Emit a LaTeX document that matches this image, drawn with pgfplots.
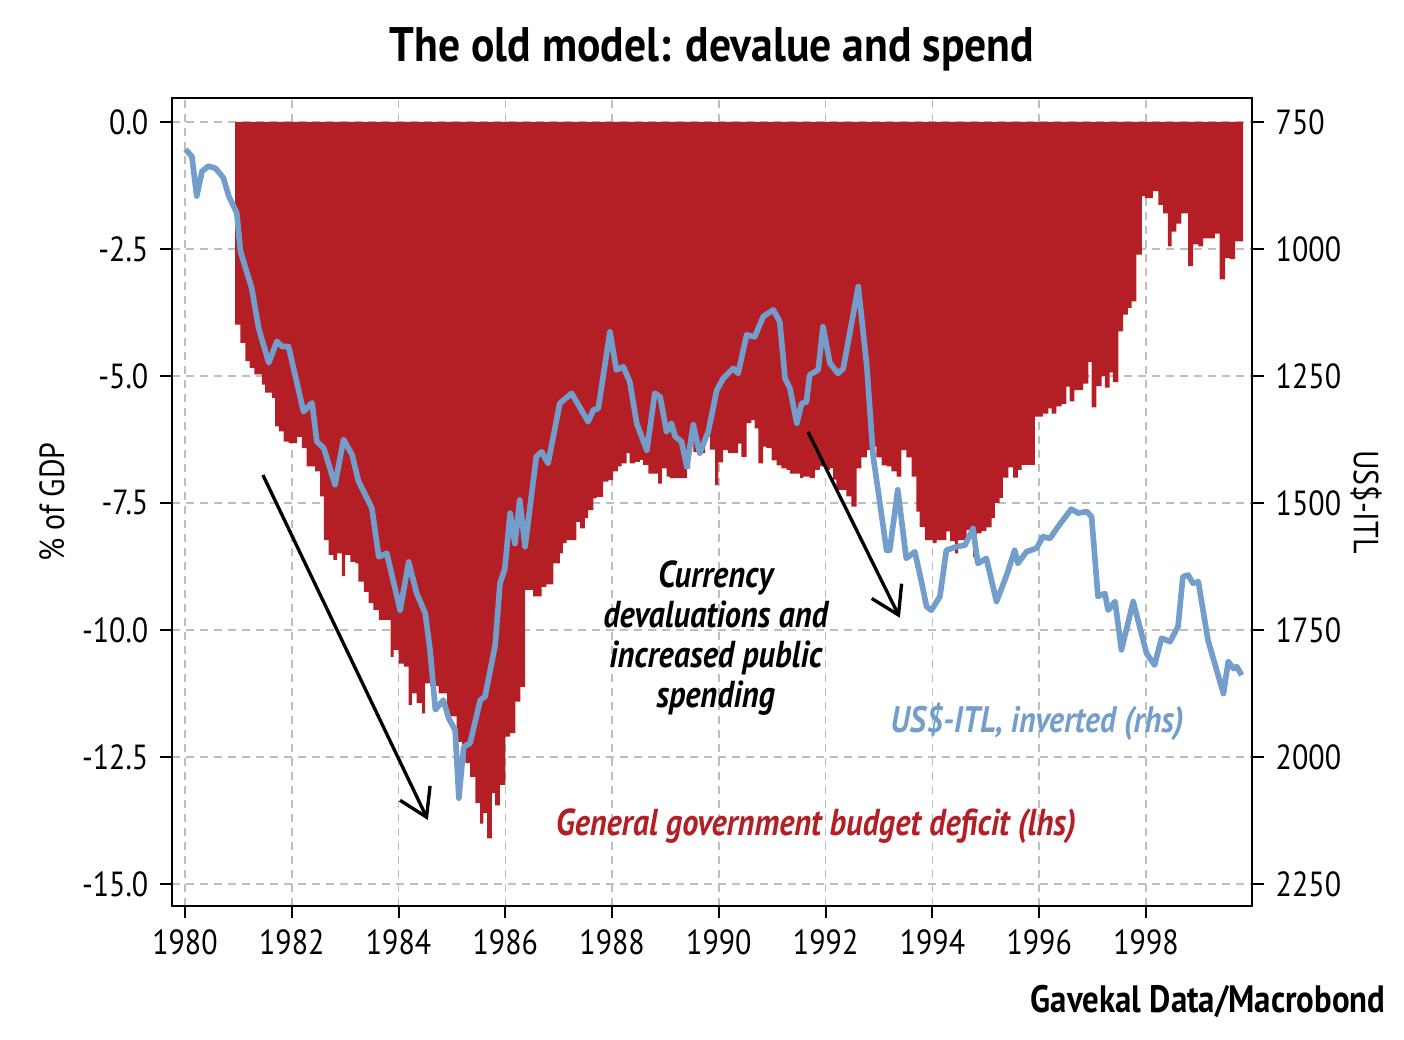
\documentclass[border=0pt]{standalone}
\usepackage{fontspec}
\setmainfont{PT Sans}
\newfontfamily\condfont{PT Sans}[FakeStretch=0.86]
\newfontfamily\titlefont{PT Sans}[FakeStretch=0.9]
\usepackage{pgfplots}
\pgfplotsset{compat=1.18}
\usetikzlibrary{arrows.meta}
\definecolor{defred}{RGB}{180,30,37}
\definecolor{itlblue}{RGB}{115,158,204}
\definecolor{gridgray}{RGB}{190,190,190}

\pgfplotstableread{
x y
1980.94 -3.99
1981.04 -4.35
1981.13 -4.71
1981.21 -4.84
1981.30 -4.97
1981.44 -5.17
1981.50 -5.33
1981.63 -5.43
1981.69 -5.99
1981.76 -6.09
1981.85 -6.29
1981.94 -6.32
1982.10 -6.20
1982.19 -6.42
1982.28 -6.78
1982.44 -6.88
1982.53 -7.37
1982.60 -8.23
1982.69 -8.52
1982.78 -8.62
1982.85 -8.49
1982.94 -8.94
1983.00 -8.52
1983.10 -8.66
1983.19 -8.69
1983.25 -9.05
1983.35 -9.25
1983.44 -9.47
1983.53 -9.61
1983.63 -9.80
1983.85 -10.53
1983.91 -10.39
1984.00 -10.66
1984.10 -10.72
1984.19 -11.48
1984.25 -11.25
1984.34 -11.44
1984.44 -11.64
1984.50 -11.05
1984.59 -11.10
1984.75 -11.25
1984.91 -11.70
1985.09 -12.20
1985.19 -12.50
1985.25 -12.62
1985.34 -12.89
1985.44 -13.41
1985.53 -13.81
1985.59 -13.60
1985.66 -14.10
1985.75 -13.21
1985.81 -13.45
1985.90 -13.05
1986.00 -12.10
1986.09 -12.03
1986.19 -11.41
1986.28 -11.12
1986.37 -9.21
1986.52 -9.34
1986.68 -9.15
1986.77 -9.10
1986.90 -8.69
1987.02 -8.49
1987.08 -8.29
1987.15 -8.23
1987.33 -7.87
1987.40 -8.00
1987.49 -7.80
1987.55 -7.64
1987.65 -7.41
1987.71 -7.38
1987.83 -7.08
1987.93 -7.05
1988.02 -6.88
1988.11 -6.78
1988.18 -6.72
1988.27 -6.52
1988.33 -6.72
1988.43 -6.69
1988.52 -6.65
1988.58 -6.75
1988.68 -6.92
1988.77 -6.92
1988.86 -7.12
1988.93 -6.82
1989.02 -6.98
1989.08 -7.01
1989.18 -7.01
1989.40 -6.82
1989.46 -6.30
1989.52 -6.50
1989.64 -6.52
1989.74 -6.19
1989.83 -6.45
1989.93 -7.15
1989.99 -6.70
1990.08 -6.46
1990.17 -6.52
1990.36 -6.33
1990.42 -6.59
1990.52 -5.93
1990.61 -5.87
1990.67 -6.03
1990.74 -6.72
1990.83 -6.39
1990.89 -6.42
1990.99 -6.66
1991.08 -6.76
1991.17 -6.82
1991.27 -6.85
1991.33 -6.92
1991.52 -7.01
1991.58 -6.98
1991.70 -7.01
1991.80 -6.85
1991.89 -6.78
1991.99 -6.85
1992.08 -6.82
1992.14 -7.04
1992.20 -7.24
1992.39 -7.37
1992.48 -7.57
1992.58 -6.82
1992.67 -6.60
1992.77 -6.46
1992.86 -6.39
1992.95 -6.60
1993.05 -6.76
1993.14 -6.78
1993.23 -6.88
1993.33 -6.98
1993.42 -6.46
1993.51 -6.60
1993.61 -6.98
1993.70 -7.67
1993.76 -7.97
1993.86 -8.23
1994.01 -8.29
1994.08 -8.23
1994.26 -8.06
1994.33 -8.25
1994.42 -8.49
1994.48 -8.23
1994.64 -8.03
1994.76 -8.56
1994.83 -8.10
1994.92 -8.05
1995.01 -7.98
1995.11 -7.80
1995.17 -7.50
1995.26 -7.40
1995.32 -7.00
1995.42 -6.80
1995.51 -7.00
1995.60 -6.85
1995.67 -6.75
1995.92 -5.80
1996.07 -5.74
1996.17 -5.64
1996.23 -5.74
1996.32 -5.60
1996.42 -5.55
1996.51 -5.21
1996.57 -5.50
1996.66 -5.28
1996.76 -5.28
1996.82 -5.15
1996.92 -4.72
1996.98 -5.62
1997.07 -5.20
1997.17 -5.00
1997.23 -5.23
1997.32 -4.93
1997.38 -5.12
1997.48 -4.12
1997.57 -3.79
1997.66 -3.66
1997.73 -3.53
1997.82 -2.61
1997.92 -1.46
1997.98 -1.50
1998.13 -1.36
1998.23 -1.63
1998.32 -1.80
1998.41 -2.45
1998.48 -2.16
1998.57 -2.00
1998.66 -1.80
1998.79 -2.84
1998.88 -2.41
1998.98 -2.45
1999.07 -2.29
1999.13 -2.29
1999.29 -2.20
1999.38 -3.10
1999.48 -2.68
1999.57 -2.70
1999.67 -2.35
1999.82 -2.35
}\deficit

\pgfplotstableread{
x y
1980.01 804
1980.13 818
1980.22 896
1980.32 847
1980.44 837
1980.57 841
1980.72 860
1980.82 896
1980.97 929
1981.04 1005
1981.25 1077
1981.38 1156
1981.57 1224
1981.72 1182
1981.82 1192
1981.94 1192
1982.22 1320
1982.38 1303
1982.47 1379
1982.60 1392
1982.81 1464
1982.97 1375
1983.13 1405
1983.25 1457
1983.50 1510
1983.63 1606
1983.78 1599
1984.03 1711
1984.19 1616
1984.34 1678
1984.50 1717
1984.59 1789
1984.69 1907
1984.84 1888
1984.94 1924
1985.06 1947
1985.13 2081
1985.22 1980
1985.34 1973
1985.53 1888
1985.62 1881
1985.81 1780
1985.90 1658
1985.99 1630
1986.09 1520
1986.18 1580
1986.27 1494
1986.37 1586
1986.46 1510
1986.58 1409
1986.68 1399
1986.80 1422
1987.02 1304
1987.24 1284
1987.37 1307
1987.55 1340
1987.65 1317
1987.74 1314
1987.96 1163
1988.08 1238
1988.21 1232
1988.33 1261
1988.46 1343
1988.65 1396
1988.80 1284
1988.90 1291
1989.02 1360
1989.11 1343
1989.18 1369
1989.30 1379
1989.40 1429
1989.52 1346
1989.64 1402
1989.80 1360
1989.96 1278
1990.08 1255
1990.27 1235
1990.36 1245
1990.52 1169
1990.67 1173
1990.83 1133
1991.02 1120
1991.14 1143
1991.24 1255
1991.33 1274
1991.46 1343
1991.55 1304
1991.64 1301
1991.70 1248
1991.86 1238
1991.95 1153
1992.08 1225
1992.23 1245
1992.33 1235
1992.61 1074
1992.77 1230
1992.89 1409
1992.98 1474
1993.14 1593
1993.20 1593
1993.35 1474
1993.51 1609
1993.67 1596
1993.80 1658
1993.89 1704
1993.98 1711
1994.14 1684
1994.26 1593
1994.45 1586
1994.61 1583
1994.76 1550
1994.85 1619
1995.01 1609
1995.20 1694
1995.39 1642
1995.54 1593
1995.60 1619
1995.76 1596
1995.95 1589
1996.07 1566
1996.20 1570
1996.35 1547
1996.60 1512
1996.73 1520
1996.89 1517
1996.98 1527
1997.10 1684
1997.23 1678
1997.29 1711
1997.42 1694
1997.54 1789
1997.76 1694
1998.01 1796
1998.16 1819
1998.29 1766
1998.45 1773
1998.60 1743
1998.69 1645
1998.79 1642
1998.88 1658
1998.98 1655
1999.16 1770
1999.45 1875
1999.54 1812
1999.64 1826
1999.70 1822
1999.79 1839
}\itl

\begin{document}
\begin{tikzpicture}
\begin{axis}[name=ax, scale only axis, width=324bp, height=242.4bp,
  xmin=1979.757, xmax=1999.985, ymin=-15.433, ymax=0.472,
  xtick={1980,1982,...,1998}, ytick={-15,-12.5,...,0},
  xtick pos=lower, ytick pos=left,
  tick align=outside, major tick length=3.6bp,
  grid=major,
  major grid style={gridgray, dash pattern=on 2.4bp off 1.8bp, line width=0.45bp},
  axis line style={line width=0.6bp},
  tick style={line width=0.6bp, black},
  ticklabel style={font=\condfont\fontsize{10.5}{12}\selectfont},
  /pgf/number format/assume math mode=true,
  xticklabel style={/pgf/number format/1000 sep={}},
  yticklabel style={/pgf/number format/.cd, fixed, fixed zerofill, precision=1},
]
\addplot[const plot, fill=defred, draw=none] table {\deficit} \closedcycle;
\draw[line width=1bp, -{Straight Barb[length=8bp,width=10bp,line width=1bp]}] (axis cs:1981.46,-6.95) -- (axis cs:1984.55,-13.74);
\draw[line width=1bp, -{Straight Barb[length=8bp,width=10bp,line width=1bp]}] (axis cs:1991.67,-6.10) -- (axis cs:1993.39,-9.76);
\node[align=center, font=\condfont\bfseries\itshape\fontsize{11.3}{12}\selectfont] at (axis cs:1989.94,-10.16) {Currency\\devaluations and\\increased public\\spending};
\node[text=itlblue, font=\condfont\bfseries\itshape\fontsize{11.1}{12}\selectfont] at (axis cs:1995.96,-11.81) {US\$-ITL, inverted (rhs)};
\node[text=defred, font=\condfont\bfseries\itshape\fontsize{11.3}{12}\selectfont] at (axis cs:1991.82,-13.86) {General government budget deficit (lhs)};
\end{axis}
\begin{axis}[scale only axis, width=324bp, height=242.4bp,
  at={(ax.south west)}, anchor=south west,
  xmin=1979.757, xmax=1999.985, ymin=702.8, ymax=2293.3, y dir=reverse,
  axis x line=none, axis y line*=right,
  ytick={750,1000,...,2250},
  tick align=outside, major tick length=3.6bp,
  axis line style={line width=0.6bp},
  tick style={line width=0.6bp, black},
  ticklabel style={font=\condfont\fontsize{10.5}{12}\selectfont},
  /pgf/number format/assume math mode=true,
  yticklabel style={/pgf/number format/1000 sep={}},
]
\addplot[itlblue, line width=1.7bp, line join=round] table {\itl};
\end{axis}
\node[anchor=base, font=\titlefont\bfseries\fontsize{14.6}{16}\selectfont] at ([yshift=10.8bp]ax.north) {The old model: devalue and spend};
\node[rotate=90, font=\condfont\fontsize{10.5}{12}\selectfont] at ([xshift=-36bp]ax.west) {\% of GDP};
\node[rotate=-90, font=\condfont\fontsize{10.5}{12}\selectfont] at ([xshift=34.2bp]ax.east) {US\$-ITL};
\node[anchor=base east, font=\condfont\bfseries\fontsize{11.5}{13}\selectfont] at ([xshift=43.5bp,yshift=-31.8bp]ax.south east) {Gavekal Data/Macrobond};
\pgfresetboundingbox
\path ([xshift=-51.6bp,yshift=-40.2bp]ax.south west) rectangle ([xshift=45.6bp,yshift=29.4bp]ax.north east);
\end{tikzpicture}
\end{document}
